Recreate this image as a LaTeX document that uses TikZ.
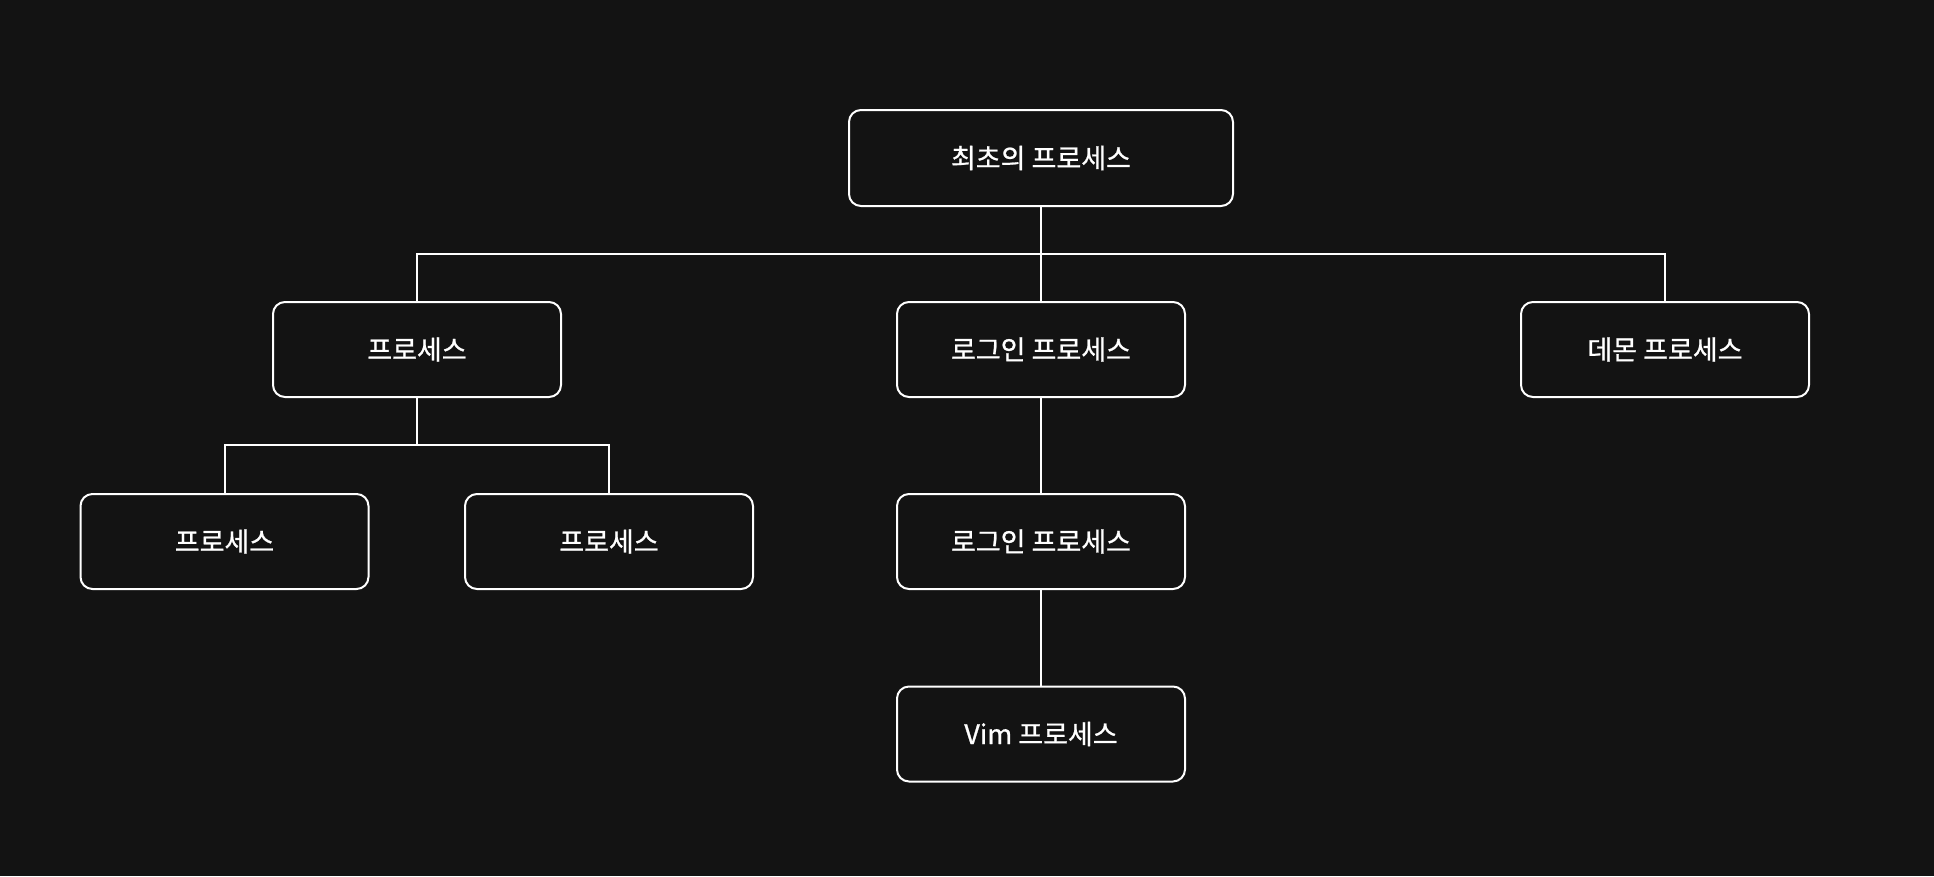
\documentclass[tikz,border=0pt]{standalone}
\usepackage{fontspec}
\newfontfamily\kr[FakeBold=0.8]{Noto Sans CJK KR}
\definecolor{bgc}{HTML}{131313}
\begin{document}
\begin{tikzpicture}[x=1pt,y=-1pt,
  box/.style={draw=white, line width=2pt, rounded corners=12pt, minimum width=288pt, minimum height=95pt, fill=bgc, text=white, font=\kr\fontsize{27}{32}\selectfont, inner sep=0pt},
  conn/.style={draw=white, line width=2pt}]
\fill[bgc] (0,0) rectangle (1934,876);
\useasboundingbox (0,0) rectangle (1934,876);
\node[box, minimum width=384pt, minimum height=96pt] (root) at (1041,158) {최초의 프로세스};
\node[box] (p1) at (417,349.5) {프로세스};
\node[box] (login1) at (1041,349.5) {로그인 프로세스};
\node[box] (daemon) at (1665,349.5) {데몬 프로세스};
\node[box] (p2) at (224.5,541.5) {프로세스};
\node[box] (p3) at (609,541.5) {프로세스};
\node[box] (login2) at (1041,541.5) {로그인 프로세스};
\node[box] (vim) at (1041,734) {Vim 프로세스};
\coordinate (j1) at (1041,254);
\coordinate (j2) at (417,445);
\draw[conn] (root.south) -- (login1.north);
\draw[conn] (p1.north) |- (j1) -| (daemon.north);
\draw[conn] (p1.south) -- (j2);
\draw[conn] (p2.north) |- (j2) -| (p3.north);
\draw[conn] (login1.south) -- (login2.north);
\draw[conn] (login2.south) -- (vim.north);
\end{tikzpicture}
\end{document}
